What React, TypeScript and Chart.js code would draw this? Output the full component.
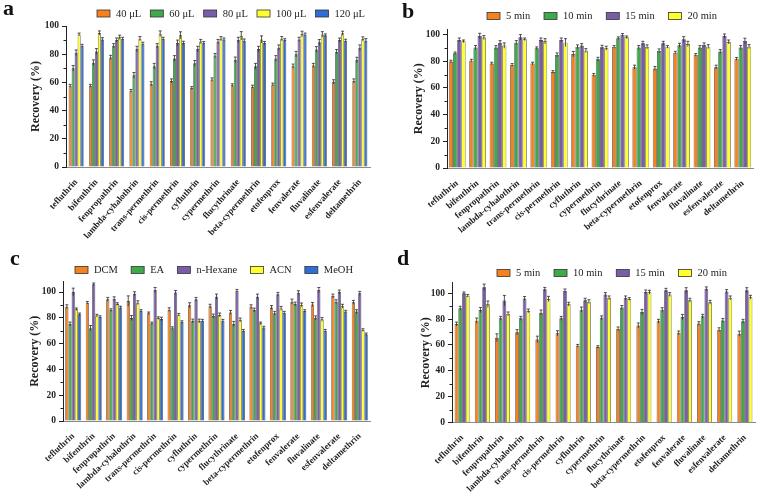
import React, { useEffect, useRef } from "react";
import { Chart, registerables } from "chart.js";

Chart.register(...registerables);

// Pyrethroid analytes shown on every panel
const pesticides = [
  "tefluthrin", "bifenthrin", "fenpropathrin", "lambda-cyhalothrin", "trans-permethrin",
  "cis-permethrin", "cyfluthrin", "cypermethrin", "flucythrinate", "beta-cypermethrin",
  "etofenprox", "fenvalerate", "fluvalinate", "esfenvalerate", "deltamethrin",
];

// (a) extraction solvent volume
const vol40 = [57.6, 57.6, 77.7, 54, 59, 61, 56, 62, 58, 57, 58.5, 71.5, 72, 60.4, 61];
const vol60 = [70, 74, 86, 65, 71.5, 77, 73.5, 79, 76, 71.5, 77, 80, 83.4, 81.8, 75.8];
const vol80 = [81, 82, 90, 83.6, 86, 88, 83.6, 89, 90, 83.6, 84.6, 90.5, 88.4, 90, 84.6];
const vol100 = [94, 95, 92, 91, 94.5, 93.4, 89, 91, 93, 90.5, 91, 94.3, 94, 94.8, 90.8];
const vol120 = [86, 90.5, 91, 87.5, 91, 88, 88, 90.5, 89.6, 88, 90, 94, 93.4, 89.6, 89.6];
const vol40Err = [1, 1, 1.5, 1, 1.5, 1.5, 1, 1.2, 1, 1, 1, 1.5, 1.5, 1.5, 1.5];
const vol60Err = [2, 2, 1.5, 2, 2, 2, 2, 1.5, 2, 2, 2, 2, 2, 1.5, 2];
const vol80Err = [2, 2, 1.5, 2, 1.5, 2, 2, 1.5, 2, 2, 2, 1.5, 2, 1.5, 2];
const vol100Err = [1, 1.5, 1.5, 1.5, 2, 2.5, 1.5, 1.5, 3, 2.5, 1.5, 2, 2, 1.5, 1.5];
const vol120Err = [1, 1.2, 1, 1, 1, 1.2, 1, 1, 1.2, 1, 1, 1, 1, 1, 1.5];

// (b) extraction time
const tb5 = [79.8, 80.5, 78.3, 77.3, 78.3, 72, 85.4, 69.8, 90.8, 75.6, 74.6, 86.5, 84.8, 75.6, 81.8];
const tb10 = [86, 90.3, 90.3, 94, 89.8, 84.8, 90.8, 81.5, 97.3, 90.3, 87.8, 92, 90.3, 87.3, 90.3];
const tb15 = [96, 99, 94, 98, 96, 96, 91.8, 90.5, 99.8, 93.5, 93.5, 96.5, 92.3, 99, 95.3];
const tb20 = [95, 97.8, 91.8, 96.5, 95, 94, 88, 89.8, 98, 90.8, 90.8, 93, 91, 94.5, 91];
const tb5Err = [1, 1, 1, 1, 1, 1, 2, 1, 1, 1.5, 1.5, 1, 1, 1.5, 1];
const tb10Err = [1, 1.5, 1.5, 1.5, 1, 1.5, 1.5, 1.5, 1, 1.5, 1.5, 1.5, 1.5, 1.5, 1.5];
const tb15Err = [1.5, 2, 1.5, 2, 1.5, 1.5, 1.5, 1.5, 1, 1.5, 1.5, 2, 1.5, 1.5, 2];
const tb20Err = [1, 1.5, 2, 1, 2, 3, 1.5, 1.5, 1, 1.5, 1, 2, 1.5, 1.5, 1.5];

// (c) extraction solvent type
const dcm = [88.6, 91.7, 94.3, 93, 83.5, 86.3, 89.7, 89, 84.2, 88.6, 88, 92.5, 90.4, 96.9, 92];
const ea = [75.2, 72, 86, 79.8, 75.7, 72, 77.5, 81.4, 75.2, 86, 83.5, 90.7, 80, 92.5, 84.8];
const hexane = [100, 106, 94.8, 98.7, 101.5, 99.7, 94.3, 96.4, 101, 96.4, 98.2, 99.5, 101.5, 100, 99];
const acn = [86.6, 81.7, 90.7, 91.7, 79.8, 82.4, 77.5, 82.2, 78.3, 75.7, 87.3, 90, 78.8, 89, 70.5];
const meoh = [82.7, 80.6, 88, 85.3, 79, 76.7, 77.8, 77.8, 70, 72.4, 84, 85.3, 70, 84.8, 67.2];
const dcmErr = [1.5, 1, 1.5, 4, 1, 1.5, 2, 1.5, 1.5, 1.5, 1.5, 2, 1.5, 1.5, 1.5];
const eaErr = [1.5, 2, 1, 2, 1, 1, 1.5, 1.5, 2, 1.5, 1.5, 1.5, 1.5, 1.5, 1.5];
const hexaneErr = [3, 1, 1.5, 1.5, 2, 1.5, 1.5, 2, 1, 2, 1.5, 1.5, 2, 1.5, 1.5];
const acnErr = [1, 1, 1, 1.5, 1, 1, 1.5, 1.5, 1.5, 1, 1.5, 1.5, 1.5, 1.5, 1];
const meohErr = [1, 1, 1, 1, 1.5, 1, 1, 1, 1, 1, 1, 1, 1, 1, 1];

// (d) ultrasonic time
const td5 = [76.2, 78.8, 65.6, 69.8, 64.3, 69, 59.4, 58.4, 72.4, 75, 78.3, 69.3, 76.5, 71.8, 68.7];
const td10 = [88.4, 87, 80.6, 80.6, 85, 80.6, 87.3, 81, 89, 85.5, 87.3, 81.6, 82.2, 79, 78.3];
const td15 = [100, 104.6, 94.3, 96, 103, 101.8, 94.6, 99, 96.4, 101, 102.3, 102.3, 103.4, 101.3, 102.3];
const td20 = [98, 91.5, 84, 86.3, 95.6, 91.5, 93.5, 96.4, 95.6, 100.8, 99, 94.6, 93, 96.4, 96.9];
const td5Err = [1.5, 2, 3, 2, 2.5, 2, 1, 1, 1.5, 2, 1.5, 1.5, 1.5, 1.5, 2];
const td10Err = [1.5, 2, 1.5, 1.5, 2, 1.5, 2, 1.5, 1.5, 2, 1.5, 2, 1.5, 1.5, 1.5];
const td15Err = [1, 2.5, 4, 1.5, 1.5, 1.5, 1.5, 1.5, 1.5, 1.5, 1.5, 2, 1.5, 1.5, 2];
const td20Err = [1, 2.5, 1.5, 1.5, 2, 1.5, 1.5, 1.5, 1, 1.5, 1.5, 1.5, 1.5, 1.5, 1.5];

const ORANGE = "#F5821F";
const GREEN = "#3FAA4A";
const PURPLE = "#7A5DA8";
const YELLOW = "#FFFF2E";
const BLUE = "#2F6FD3";

const SERIF = "'Liberation Serif', 'Times New Roman', serif";

type Series = { label: string; data: number[]; err: number[]; color: string };
type Panel = {
  letter: string;
  series: Series[];
  max: number;
  left: number;
  top: number;
  width: number;
  height: number;
  padL: number;
  padR: number;
  padT: number;
  padB: number;
  legendX0: number;
  legendX1: number;
  legendY: number;
  letterX: number;
  letterY: number;
  titleX: number;
  catPct: number;
  rotation: number;
};

const panels: Panel[] = [
  {
    letter: "a",
    series: [
      { label: "40 μL", data: vol40, err: vol40Err, color: ORANGE },
      { label: "60 μL", data: vol60, err: vol60Err, color: GREEN },
      { label: "80 μL", data: vol80, err: vol80Err, color: PURPLE },
      { label: "100 μL", data: vol100, err: vol100Err, color: YELLOW },
      { label: "120 μL", data: vol120, err: vol120Err, color: BLUE },
    ],
    max: 100,
    left: 0, top: 0, width: 379, height: 250,
    padL: 66, padR: 9, padT: 26, padB: 83,
    legendX0: 97, legendX1: 365, legendY: 13.5,
    letterX: 3, letterY: 15, titleX: 36,
    catPct: 0.74, rotation: 48,
  },
  {
    letter: "b",
    series: [
      { label: "5 min", data: tb5, err: tb5Err, color: ORANGE },
      { label: "10 min", data: tb10, err: tb10Err, color: GREEN },
      { label: "15 min", data: tb15, err: tb15Err, color: PURPLE },
      { label: "20 min", data: tb20, err: tb20Err, color: YELLOW },
    ],
    max: 104,
    left: 379, top: 0, width: 379, height: 250,
    padL: 68, padR: 5, padT: 29.3, padB: 82,
    legendX0: 108, legendX1: 338, legendY: 16,
    letterX: 23, letterY: 18, titleX: 40,
    catPct: 0.82, rotation: 40,
  },
  {
    letter: "c",
    series: [
      { label: "DCM", data: dcm, err: dcmErr, color: ORANGE },
      { label: "EA", data: ea, err: eaErr, color: GREEN },
      { label: "n-Hexane", data: hexane, err: hexaneErr, color: PURPLE },
      { label: "ACN", data: acn, err: acnErr, color: YELLOW },
      { label: "MeOH", data: meoh, err: meohErr, color: BLUE },
    ],
    max: 108,
    left: 0, top: 250, width: 379, height: 249,
    padL: 63, padR: 9, padT: 31.7, padB: 78,
    legendX0: 75, legendX1: 353, legendY: 20,
    letterX: 10, letterY: 15, titleX: 35,
    catPct: 0.78, rotation: 43,
  },
  {
    letter: "d",
    series: [
      { label: "5 min", data: td5, err: td5Err, color: ORANGE },
      { label: "10 min", data: td10, err: td10Err, color: GREEN },
      { label: "15 min", data: td15, err: td15Err, color: PURPLE },
      { label: "20 min", data: td20, err: td20Err, color: YELLOW },
    ],
    max: 108,
    left: 379, top: 250, width: 379, height: 249,
    padL: 73, padR: 3, padT: 32.9, padB: 76.5,
    legendX0: 118, legendX1: 348, legendY: 23,
    letterX: 18, letterY: 15, titleX: 47,
    catPct: 0.74, rotation: 45,
  },
];

// Draws error bars, minor y ticks, the legend row, the y title and the panel letter
function makeDecor(p: Panel) {
  return {
    id: "decor_" + p.letter,
    afterDatasetsDraw(chart: any) {
      const ctx = chart.ctx;
      const y = chart.scales.y;
      ctx.save();
      ctx.strokeStyle = "#2a2a2a";
      ctx.lineWidth = 0.8;
      p.series.forEach((s, di) => {
        const meta = chart.getDatasetMeta(di);
        meta.data.forEach((el: any, i: number) => {
          const v = s.data[i];
          const e = s.err[i];
          const yt = y.getPixelForValue(v + e);
          const yb = y.getPixelForValue(v - e);
          ctx.beginPath();
          ctx.moveTo(el.x, yb);
          ctx.lineTo(el.x, yt);
          ctx.moveTo(el.x - 1.5, yt);
          ctx.lineTo(el.x + 1.5, yt);
          ctx.stroke();
        });
      });
      ctx.restore();
    },
    afterDraw(chart: any) {
      const ctx = chart.ctx;
      const area = chart.chartArea;
      const y = chart.scales.y;
      ctx.save();

      // minor ticks on the y axis
      ctx.strokeStyle = "#222";
      ctx.lineWidth = 1;
      for (let v = 10; v < p.max; v += 20) {
        const py = Math.round(y.getPixelForValue(v)) + 0.5;
        ctx.beginPath();
        ctx.moveTo(area.left - 2.5, py);
        ctx.lineTo(area.left, py);
        ctx.stroke();
      }

      // legend row
      ctx.font = `10.5px ${SERIF}`;
      const boxW = 13;
      const boxH = 7;
      const gap = 6;
      const widths = p.series.map((s) => ctx.measureText(s.label).width);
      const total = widths.reduce((a, b) => a + b, 0) + p.series.length * (boxW + gap);
      const spacing = (p.legendX1 - p.legendX0 - total) / (p.series.length - 1);
      let x = p.legendX0;
      ctx.textBaseline = "middle";
      ctx.textAlign = "left";
      p.series.forEach((s, i) => {
        ctx.fillStyle = s.color;
        ctx.fillRect(x, p.legendY - boxH / 2, boxW, boxH);
        ctx.strokeStyle = "#333";
        ctx.lineWidth = 0.8;
        ctx.strokeRect(x, p.legendY - boxH / 2, boxW, boxH);
        ctx.fillStyle = "#222";
        ctx.fillText(s.label, x + boxW + gap, p.legendY + 0.5);
        x += boxW + gap + widths[i] + spacing;
      });

      // y axis title
      ctx.save();
      ctx.translate(p.titleX, (area.top + area.bottom) / 2);
      ctx.rotate(-Math.PI / 2);
      ctx.font = `bold 12px ${SERIF}`;
      ctx.fillStyle = "#222";
      ctx.textAlign = "center";
      ctx.textBaseline = "middle";
      ctx.fillText("Recovery (%)", 0, 0);
      ctx.restore();

      // panel letter
      ctx.font = `bold 22px ${SERIF}`;
      ctx.fillStyle = "#111";
      ctx.textAlign = "left";
      ctx.textBaseline = "alphabetic";
      ctx.fillText(p.letter, p.letterX, p.letterY);

      ctx.restore();
    },
  };
}

function PanelChart({ p }: { p: Panel }) {
  const ref = useRef<HTMLCanvasElement | null>(null);

  useEffect(() => {
    if (!ref.current) return;
    const chart = new Chart(ref.current, {
      type: "bar",
      data: {
        labels: pesticides,
        datasets: p.series.map((s) => ({
          label: s.label,
          data: s.data,
          backgroundColor: s.color,
          borderColor: "#3a3a3a",
          borderWidth: 0.7,
          categoryPercentage: p.catPct,
          barPercentage: 1,
        })),
      },
      options: {
        responsive: false,
        animation: false,
        layout: { padding: { left: 0, right: p.padR, top: p.padT, bottom: 0 } },
        plugins: {
          legend: { display: false },
          tooltip: { enabled: false },
        },
        scales: {
          x: {
            grid: { display: false },
            border: { display: true, color: "#8a8a8a", width: 1 },
            ticks: {
              autoSkip: false,
              maxRotation: p.rotation,
              minRotation: p.rotation,
              padding: 2,
              color: "#222",
              font: { family: SERIF, size: 9, weight: "bold" },
            },
            afterFit: (s: any) => {
              s.height = p.padB;
            },
          },
          y: {
            min: 0,
            max: p.max,
            grid: {
              drawOnChartArea: false,
              drawTicks: true,
              tickLength: 4,
              color: "#222",
              lineWidth: 1,
            },
            border: { display: true, color: "#222", width: 1 },
            ticks: {
              stepSize: 20,
              includeBounds: false,
              padding: 3,
              color: "#222",
              font: { family: SERIF, size: 9.5, weight: "bold" },
            },
            afterFit: (s: any) => {
              s.width = p.padL;
            },
          },
        },
      } as any,
      plugins: [makeDecor(p)],
    });
    return () => chart.destroy();
  }, [p]);

  return (
    <div style={{ position: "absolute", left: p.left, top: p.top, width: p.width, height: p.height }}>
      <canvas ref={ref} width={p.width} height={p.height} style={{ display: "block" }} />
    </div>
  );
}

export default function App() {
  return (
    <div style={{ position: "fixed", left: 0, top: 0, width: 758, height: 499, background: "#fff" }}>
      {panels.map((p) => (
        <PanelChart key={p.letter} p={p} />
      ))}
    </div>
  );
}
